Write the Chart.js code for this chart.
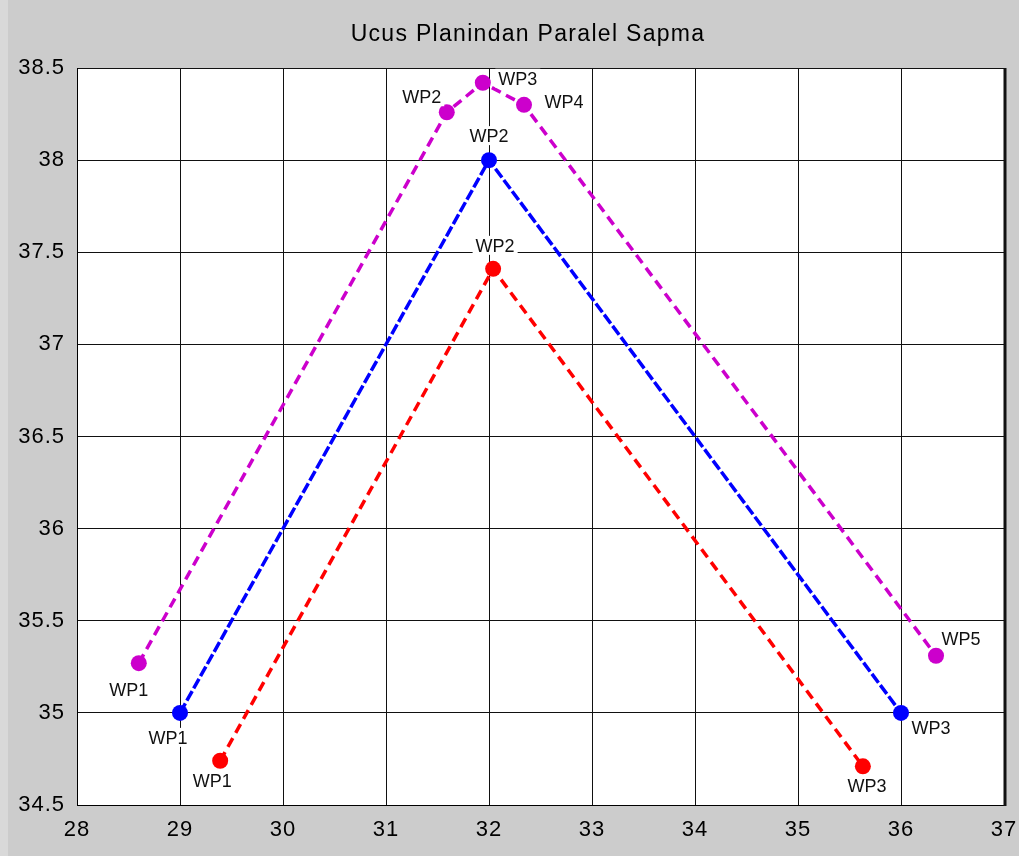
<!DOCTYPE html>
<html>
<head>
<meta charset="utf-8">
<script src="https://cdn.jsdelivr.net/npm/chart.js@4/dist/chart.umd.min.js"></script>
<style>
  html, body { margin: 0; padding: 0; background: #cccccc; }
  #wrap { width: 1019px; height: 856px; position: relative; }
</style>
</head>
<body>
<div id="wrap"><canvas id="c" width="1019" height="856"></canvas></div>
<script>
// Waypoint tracks (longitude on x, latitude on y)
const magentaX = [28.6, 31.59, 31.94, 32.34, 36.34];
const magentaY = [35.27, 38.26, 38.42, 38.30, 35.31];
const magentaLabels = ['WP1', 'WP2', 'WP3', 'WP4', 'WP5'];

const blueX = [29, 32, 36];
const blueY = [35, 38, 35];
const blueLabels = ['WP1', 'WP2', 'WP3'];

const redX = [29.39, 32.04, 35.63];
const redY = [34.74, 37.41, 34.71];
const redLabels = ['WP1', 'WP2', 'WP3'];

const xTickValues = [28, 29, 30, 31, 32, 33, 34, 35, 36, 37];
const xTickLabels = ['28', '29', '30', '31', '32', '33', '34', '35', '36', '37'];
const yTickValues = [34.5, 35, 35.5, 36, 36.5, 37, 37.5, 38, 38.5];
const yTickLabels = ['34.5', '35', '35.5', '36', '36.5', '37', '37.5', '38', '38.5'];

const chartTitle = 'Ucus Planindan Paralel Sapma';

// Label placement (pixel offsets of the text centre from its point)
const magentaLabelOffsets = [[-10, 27], [-25, -15], [35, -4], [40, -3], [25, -17]];
const blueLabelOffsets = [[-12, 25], [0, -24], [30, 15]];
const redLabelOffsets = [[-8, 20], [2, -23], [4, 20]];

function toPoints(xs, ys) {
  return xs.map((x, i) => ({ x: x, y: ys[i] }));
}

const series = [
  { pts: toPoints(magentaX, magentaY), color: '#cc00cc', dash: [10, 6], labels: magentaLabels, offsets: magentaLabelOffsets },
  { pts: toPoints(blueX, blueY), color: '#0000ff', dash: [11, 3], labels: blueLabels, offsets: blueLabelOffsets },
  { pts: toPoints(redX, redY), color: '#ff0000', dash: [10, 6], labels: redLabels, offsets: redLabelOffsets }
];

const backdrop = {
  id: 'backdrop',
  beforeDraw(chart) {
    const ctx = chart.ctx;
    const a = chart.chartArea;
    ctx.save();
    ctx.fillStyle = '#cccccc';
    ctx.fillRect(0, 0, chart.width, chart.height);
    ctx.fillStyle = '#d9d9d9';
    ctx.fillRect(0, 0, 8, chart.height);
    ctx.fillStyle = '#ffffff';
    ctx.fillRect(a.left, a.top, a.right - a.left, a.bottom - a.top);
    ctx.fillStyle = '#000000';
    ctx.font = '23px "Liberation Sans", Arial, sans-serif';
    ctx.letterSpacing = '1.3px';
    ctx.textAlign = 'center';
    ctx.textBaseline = 'middle';
    ctx.fillText(chartTitle, 528, 35);
    ctx.restore();
    ctx.letterSpacing = '1px';
  },
  afterDraw(chart) {
    // darker shadow edge on the right of the plot frame
    const ctx = chart.ctx;
    const a = chart.chartArea;
    ctx.save();
    ctx.strokeStyle = '#111111';
    ctx.lineWidth = 3;
    ctx.beginPath();
    ctx.moveTo(a.right + 1, a.top);
    ctx.lineTo(a.right + 1, a.bottom + 1);
    ctx.stroke();
    ctx.restore();
  }
};

const pointLabels = {
  id: 'pointLabels',
  afterDatasetsDraw(chart) {
    const ctx = chart.ctx;
    const xs = chart.scales.x, ys = chart.scales.y;
    ctx.save();
    ctx.font = '18px "Liberation Sans", Arial, sans-serif';
    ctx.letterSpacing = '0px';
    ctx.textAlign = 'center';
    ctx.textBaseline = 'middle';
    series.forEach(s => {
      s.pts.forEach((p, i) => {
        const px = xs.getPixelForValue(p.x) + s.offsets[i][0];
        const py = ys.getPixelForValue(p.y) + s.offsets[i][1];
        const w = ctx.measureText(s.labels[i]).width;
        ctx.fillStyle = '#ffffff';
        ctx.fillRect(px - w / 2 - 3, py - 10, w + 6, 19);
        ctx.fillStyle = '#111111';
        ctx.fillText(s.labels[i], px, py + 1);
      });
    });
    ctx.restore();
  }
};

new Chart(document.getElementById('c'), {
  type: 'scatter',
  data: {
    datasets: series.map(s => ({
      data: s.pts,
      showLine: true,
      borderColor: s.color,
      backgroundColor: s.color,
      borderWidth: 3.5,
      borderDash: s.dash,
      pointRadius: 8,
      pointHoverRadius: 8,
      pointBorderWidth: 0,
      pointBackgroundColor: s.color,
      tension: 0
    }))
  },
  options: {
    responsive: false,
    animation: false,
    events: [],
    layout: { padding: { left: 0, right: 15, top: 68, bottom: 0 } },
    plugins: {
      legend: { display: false },
      tooltip: { enabled: false },
      title: { display: false }
    },
    scales: {
      x: {
        type: 'linear',
        min: 28,
        max: 37,
        afterBuildTicks(scale) { scale.ticks = xTickValues.map(v => ({ value: v })); },
        afterFit(scale) {
          scale.height = 51;
          scale.paddingLeft = 0;
          scale.paddingRight = 0;
        },
        ticks: {
          autoSkip: false,
          maxRotation: 0,
          padding: 12,
          color: '#000000',
          font: { size: 22, family: '"Liberation Sans", Arial, sans-serif' },
          callback(v) { const i = xTickValues.indexOf(v); return i >= 0 ? xTickLabels[i] : ''; }
        },
        grid: { color: '#111111', lineWidth: 1, tickLength: 0, drawTicks: false },
        border: { color: '#000000', width: 1 }
      },
      y: {
        type: 'linear',
        min: 34.5,
        max: 38.5,
        afterBuildTicks(scale) { scale.ticks = yTickValues.map(v => ({ value: v })); },
        afterFit(scale) {
          scale.width = 77;
          scale.paddingTop = 0;
          scale.paddingBottom = 0;
        },
        ticks: {
          autoSkip: false,
          padding: 12,
          color: '#000000',
          font: { size: 22, family: '"Liberation Sans", Arial, sans-serif' },
          callback(v) { const i = yTickValues.indexOf(v); return i >= 0 ? yTickLabels[i] : ''; }
        },
        grid: { color: '#111111', lineWidth: 1, tickLength: 0, drawTicks: false },
        border: { color: '#000000', width: 1 }
      }
    }
  },
  plugins: [backdrop, pointLabels]
});
</script>
</body>
</html>
